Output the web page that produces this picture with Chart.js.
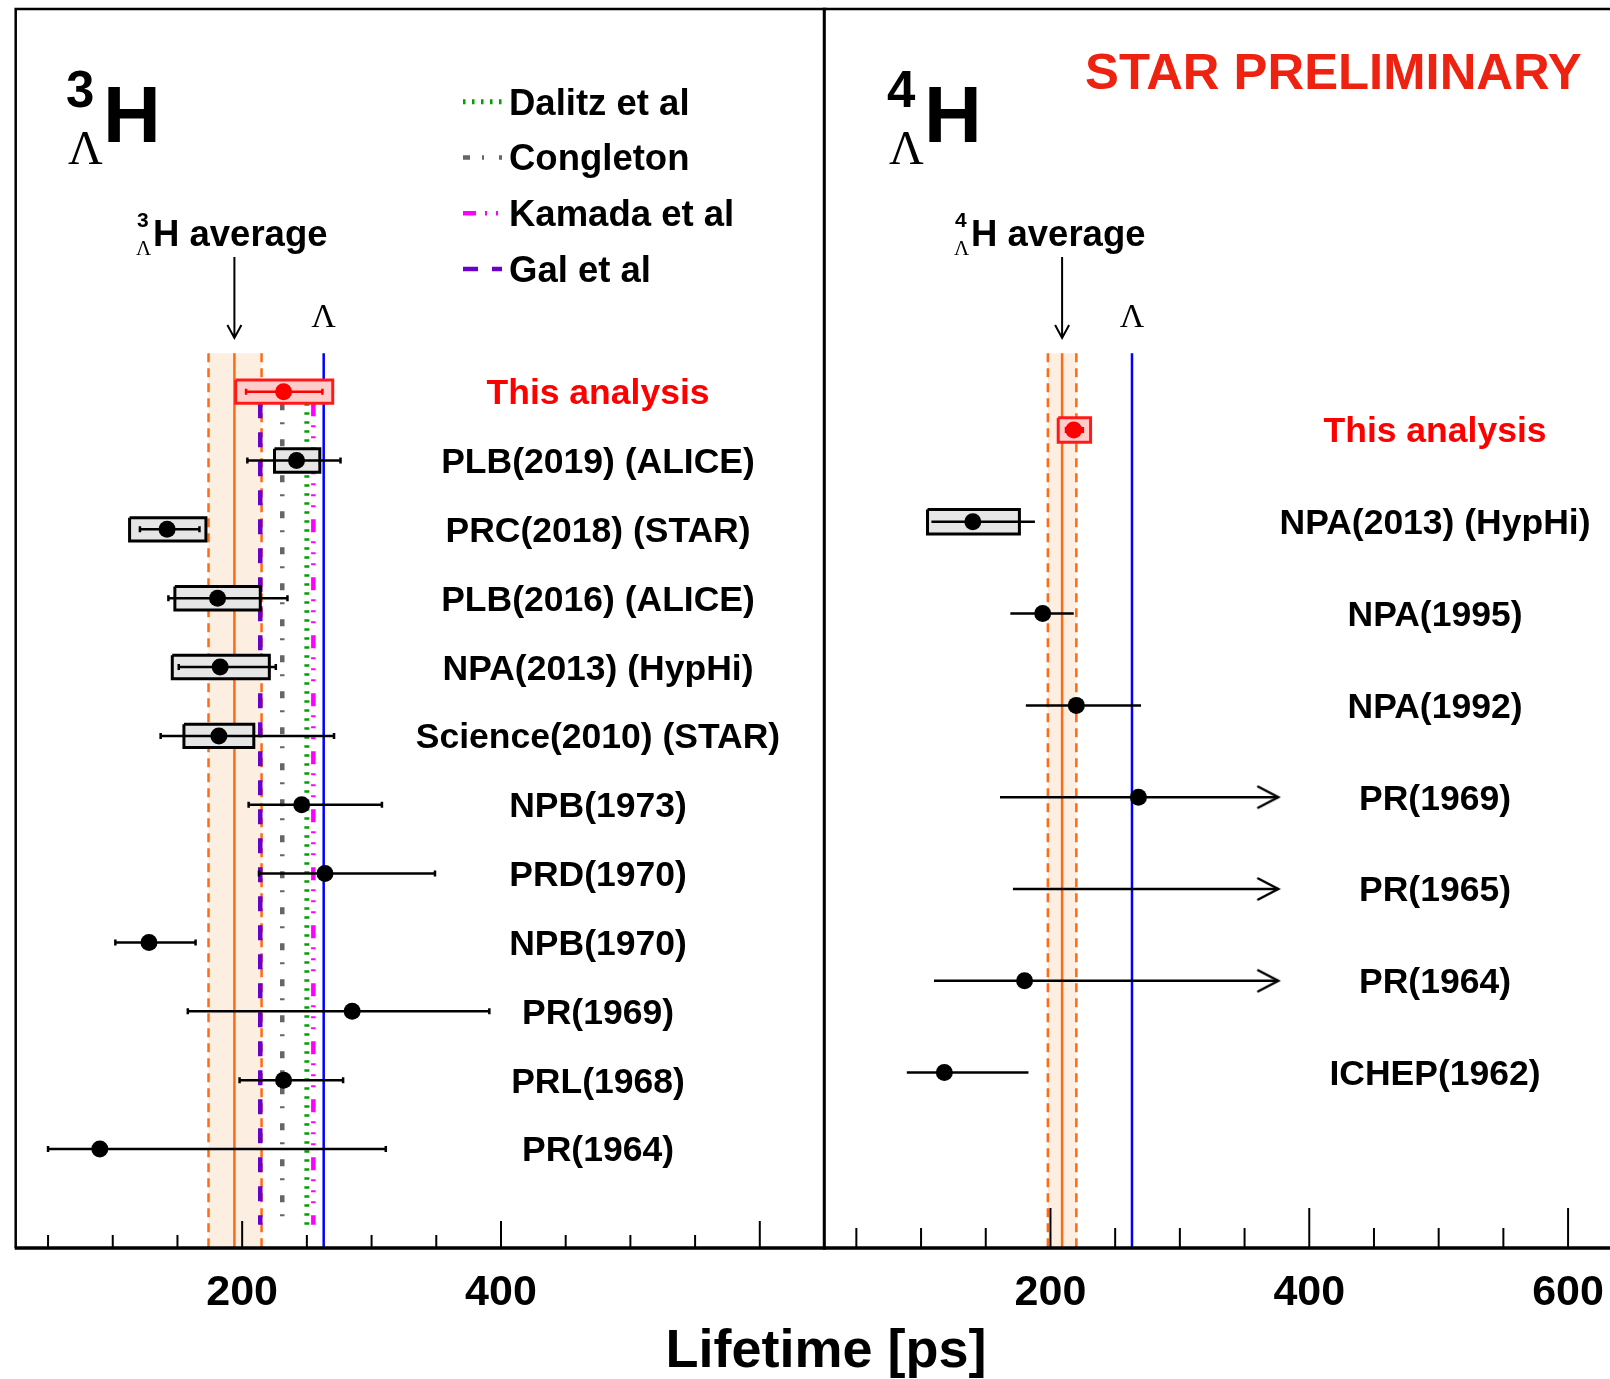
<!DOCTYPE html>
<html>
<head>
<meta charset="utf-8">
<script src="https://cdn.jsdelivr.net/npm/chart.js@4.4.1/dist/chart.umd.min.js"></script>
<style>
  html, body { margin: 0; padding: 0; background: #fff; }
  #wrap { position: relative; width: 1610px; height: 1379px; overflow: hidden; }
  canvas { position: absolute; left: 0; top: 0; }
</style>
</head>
<body>
<div id="wrap">
  <canvas id="h3" width="1610" height="1379"></canvas>
  <canvas id="h4" width="1610" height="1379"></canvas>
</div>
<script>
// ---- 3ΛH lifetimes [ps], top row first ----
const labels3 = ['This analysis', 'PLB(2019) (ALICE)', 'PRC(2018) (STAR)', 'PLB(2016) (ALICE)',
  'NPA(2013) (HypHi)', 'Science(2010) (STAR)', 'NPB(1973)', 'PRD(1970)', 'NPB(1970)',
  'PR(1969)', 'PRL(1968)', 'PR(1964)'];
const tau3   = [232, 242, 142, 181, 183, 182, 246, 264, 128, 285, 232, 90];
const lo3    = [203, 204, 121, 143, 151, 137, 205, 213, 102, 158, 198, 50];
const hi3    = [262, 276, 167, 235, 226, 271, 308, 349, 164, 391, 278, 311];
const sysLo3 = [195, 225, 113, 148, 146, 155, null, null, null, null, null, null];
const sysHi3 = [270, 260, 172, 214, 221, 209, null, null, null, null, null, null];
const avg3 = [194, 174, 215];            // centre, low, high

// ---- 4ΛH lifetimes [ps] ----
const labels4 = ['This analysis', 'NPA(2013) (HypHi)', 'NPA(1995)', 'NPA(1992)',
  'PR(1969)', 'PR(1965)', 'PR(1964)', 'ICHEP(1962)'];
const tau4   = [218, 140, 194, 220, 268, null, 180, 118];
const lo4    = [212, 108, 169, 181, 161, 171, 110, 89];
const hi4    = [225, 188, 218, 270, null, null, null, 183];  // null: lower limit only (arrow)
const sysLo4 = [206, 105, null, null, null, null, null, null];
const sysHi4 = [231, 176, null, null, null, null, null, null];
const avg4 = [209, 198, 220];
const arrowEnd = 376;

// ---- reference lines ----
const lambdaTau = 263;
const theoryNames = ['Dalitz et al', 'Congleton', 'Kamada et al', 'Gal et al'];
const theoryTau = [250, 231, 255, 214];

const xTicks = [50, 100, 150, 200, 250, 300, 350, 400, 450, 500, 550, 600];
const xTickLabels3 = [200, 400];
const xTickLabels4 = [200, 400, 600];

const theoryStyle = [
  { color: '#00a000', width: 5, dash: [2.5, 6.5] },
  { color: '#666666', width: 4.5, dash: [7, 12, 2, 15] },
  { color: '#ff00ff', width: 4.5, dash: [13, 9, 2, 9, 2, 9, 2, 12] },
  { color: '#6a00cc', width: 4.5, dash: [15, 14] }
];

const SANS = '"Liberation Sans", Arial, Helvetica, sans-serif';
const SERIF = '"Liberation Serif", "Times New Roman", serif';
const ORANGE = '#ff6a14';

function arrowHead() {
  const c = document.createElement('canvas');
  c.width = 44; c.height = 26;
  const g = c.getContext('2d');
  g.strokeStyle = '#000'; g.lineWidth = 2.5; g.lineCap = 'round';
  g.beginPath(); g.moveTo(2, 2.5); g.lineTo(22, 13); g.lineTo(2, 23.5); g.stroke();
  return c;
}
const arrowImg = arrowHead();

function vline(x, y0, y1, color, width, dash) {
  return { data: [{ x, y: y0 }, { x, y: y1 }], showLine: true, borderColor: color,
    borderWidth: width, borderDash: dash || [], pointRadius: 0 };
}
function rect(x0, x1, y0, y1, fillC, lineC, w) {
  return { data: [{ x: x0, y: y0 }, { x: x1, y: y0 }, { x: x1, y: y1 }, { x: x0, y: y1 }, { x: x0, y: y0 }],
    showLine: true, fill: 'shape', backgroundColor: fillC, borderColor: lineC, borderWidth: w,
    borderJoinStyle: 'miter', pointRadius: 0 };
}

function buildDatasets(p) {
  const ds = [];
  ds.push(rect(p.avg[1], p.avg[2], p.bandTop, p.yMax, '#fdeee2', 'rgba(0,0,0,0)', 0));
  ds.push(vline(p.avg[1], p.bandTop, p.yMax, ORANGE, 2.5, [9, 6]));
  ds.push(vline(p.avg[2], p.bandTop, p.yMax, ORANGE, 2.5, [9, 6]));
  ds.push(vline(p.avg[0], p.bandTop, p.yMax, ORANGE, 2.5));
  ds.push(vline(lambdaTau, p.bandTop, p.yMax, '#0000ff', 2.5));
  if (p.theory) {
    theoryTau.forEach((v, k) => {
      const s = theoryStyle[k];
      ds.push(vline(v, p.thTop, p.thBot, s.color, s.width, s.dash));
    });
  }
  p.lo.forEach((lo, i) => {
    const red = i === 0;
    const col = red ? '#ff0000' : '#000000';
    if (p.sysLo[i] != null) {
      ds.push(rect(p.sysLo[i], p.sysHi[i], i - p.boxH, i + p.boxH,
        red ? '#ffcccc' : '#e6e6e6', red ? '#ff1a1a' : '#000000', 3));
    }
    const arrow = p.hi[i] == null;
    const capR = (p.caps || red) ? 3 : 0;
    ds.push({
      data: [{ x: lo, y: i }, { x: arrow ? arrowEnd : p.hi[i], y: i }],
      showLine: true, borderColor: col, borderWidth: 2.5,
      pointStyle: arrow ? ['line', arrowImg] : 'line',
      rotation: arrow ? [90, 0] : 90,
      pointRadius: arrow ? [capR, 1] : capR,
      pointBorderColor: col, pointBorderWidth: 2.5
    });
  });
  const pts = [], cols = [];
  p.tau.forEach((t, i) => {
    if (t == null) return;
    pts.push({ x: t, y: i });
    cols.push(i === 0 ? '#ff0000' : '#000000');
  });
  ds.push({ data: pts, pointRadius: 8.5, pointBorderWidth: 0, pointBackgroundColor: cols, showLine: false });
  ds.forEach((d, k) => { d.order = ds.length - k; });
  return ds;
}

function txt(ctx, s, x, y, font, color, align) {
  ctx.save();
  ctx.font = font; ctx.fillStyle = color || '#000';
  ctx.textAlign = align || 'left'; ctx.textBaseline = 'alphabetic';
  ctx.fillText(s, x, y);
  ctx.restore();
}

function decor(p) {
  return {
    id: 'decor',
    afterDatasetsDraw(chart) {
      const { ctx, chartArea: a, scales: { x } } = chart;
      ctx.save();
      ctx.strokeStyle = '#000';
      ctx.lineWidth = 2;
      xTicks.forEach(v => {
        const px = x.getPixelForValue(v);
        const len = v % 200 === 0 ? p.major : p.minor;
        ctx.beginPath(); ctx.moveTo(px, a.bottom); ctx.lineTo(px, a.bottom - len); ctx.stroke();
      });
      ctx.lineWidth = 2.5;
      ctx.beginPath();
      ctx.moveTo(a.right + 2, a.top); ctx.lineTo(a.left, a.top); ctx.lineTo(a.left, a.bottom);
      if (p.side === 'left') { ctx.moveTo(a.right, a.top); ctx.lineTo(a.right, a.bottom); }
      ctx.stroke();
      ctx.lineWidth = 3.5;
      ctx.beginPath(); ctx.moveTo(a.left - 1, a.bottom); ctx.lineTo(a.right + 1, a.bottom); ctx.stroke();
      ctx.restore();
    },
    afterDraw(chart) {
      const { ctx, scales: { x, y } } = chart;
      const B = 'bold 35.5px ' + SANS;
      p.tickLabels.forEach(v => txt(ctx, String(v), x.getPixelForValue(v), 1305, 'bold 43px ' + SANS, '#000', 'center'));
      p.labels.forEach((s, i) => txt(ctx, s, p.labelX, y.getPixelForValue(i) + 12.5, B, i === 0 ? '#ff0000' : '#000', 'center'));
      // nucleus symbol
      const o = p.titleX;
      txt(ctx, p.mass, o - 2, 107, 'bold 51px ' + SANS);
      txt(ctx, 'Λ', o, 164, '48px ' + SERIF);
      txt(ctx, 'H', o + 35, 142, 'bold 80px ' + SANS);
      // average label + arrow
      const ax = x.getPixelForValue(p.avg[0]);
      const lx = p.avgLabelX;
      txt(ctx, p.mass, lx + 1, 227, 'bold 21px ' + SANS);
      txt(ctx, 'Λ', lx, 255, '21px ' + SERIF);
      txt(ctx, 'H average', lx + 17, 246, 'bold 36.5px ' + SANS);
      ctx.save();
      ctx.strokeStyle = '#000'; ctx.lineWidth = 2;
      ctx.beginPath(); ctx.moveTo(ax, 257); ctx.lineTo(ax, 338);
      ctx.moveTo(ax - 7, 325); ctx.lineTo(ax, 338); ctx.lineTo(ax + 7, 325); ctx.stroke();
      ctx.restore();
      txt(ctx, 'Λ', x.getPixelForValue(lambdaTau), 327, '34px ' + SERIF, '#000', 'center');
      if (p.side === 'left') {
        const ly = [101.7, 157.5, 213.3, 269.1];
        theoryNames.forEach((n, k) => {
          const s = theoryStyle[k];
          ctx.save();
          ctx.strokeStyle = s.color; ctx.lineWidth = s.width; ctx.setLineDash(s.dash);
          ctx.beginPath(); ctx.moveTo(463, ly[k]); ctx.lineTo(502, ly[k]); ctx.stroke();
          ctx.restore();
          txt(ctx, n, 509, ly[k] + 12.8, 'bold 36.5px ' + SANS);
        });
      } else {
        txt(ctx, 'STAR PRELIMINARY', 1085, 88.5, 'bold 50.8px ' + SANS, '#ee2211');
        txt(ctx, 'Lifetime [ps]', 826, 1367, 'bold 54px ' + SANS, '#000', 'center');
      }
    }
  };
}

function makeChart(id, p) {
  return new Chart(document.getElementById(id), {
    type: 'scatter',
    data: { datasets: buildDatasets(p) },
    options: {
      responsive: false, animation: false, events: [],
      layout: { padding: p.pad, autoPadding: false },
      plugins: { legend: { display: false }, tooltip: { enabled: false } },
      scales: {
        x: { type: 'linear', min: 25, max: p.xMax, display: false },
        y: { type: 'linear', min: p.yMin, max: p.yMax, reverse: true, display: false }
      }
    },
    plugins: [decor(p)]
  });
}

makeChart('h3', {
  side: 'left', labels: labels3, tau: tau3, lo: lo3, hi: hi3, sysLo: sysLo3, sysHi: sysHi3,
  avg: avg3, tickLabels: xTickLabels3, mass: '3',
  pad: { left: 15.7, right: 785.5, top: 9, bottom: 131 },
  xMax: 650, yMin: -5.558, yMax: 12.438, bandTop: -0.558,
  theory: true, thTop: 0.17, thBot: 12.1, boxH: 0.17, caps: true,
  major: 27, minor: 13, labelX: 598, titleX: 68, avgLabelX: 136
});

makeChart('h4', {
  side: 'right', labels: labels4, tau: tau4, lo: lo4, hi: hi4, sysLo: sysLo4, sysHi: sysHi4,
  avg: avg4, tickLabels: xTickLabels4, mass: '4',
  pad: { left: 824, right: 0, top: 9, bottom: 131 },
  xMax: 632.4, yMin: -4.586, yMax: 8.911, bandTop: -0.835,
  theory: false, boxH: 0.133, caps: false,
  major: 40, minor: 20, labelX: 1435, titleX: 889, avgLabelX: 954
});
</script>
</body>
</html>
